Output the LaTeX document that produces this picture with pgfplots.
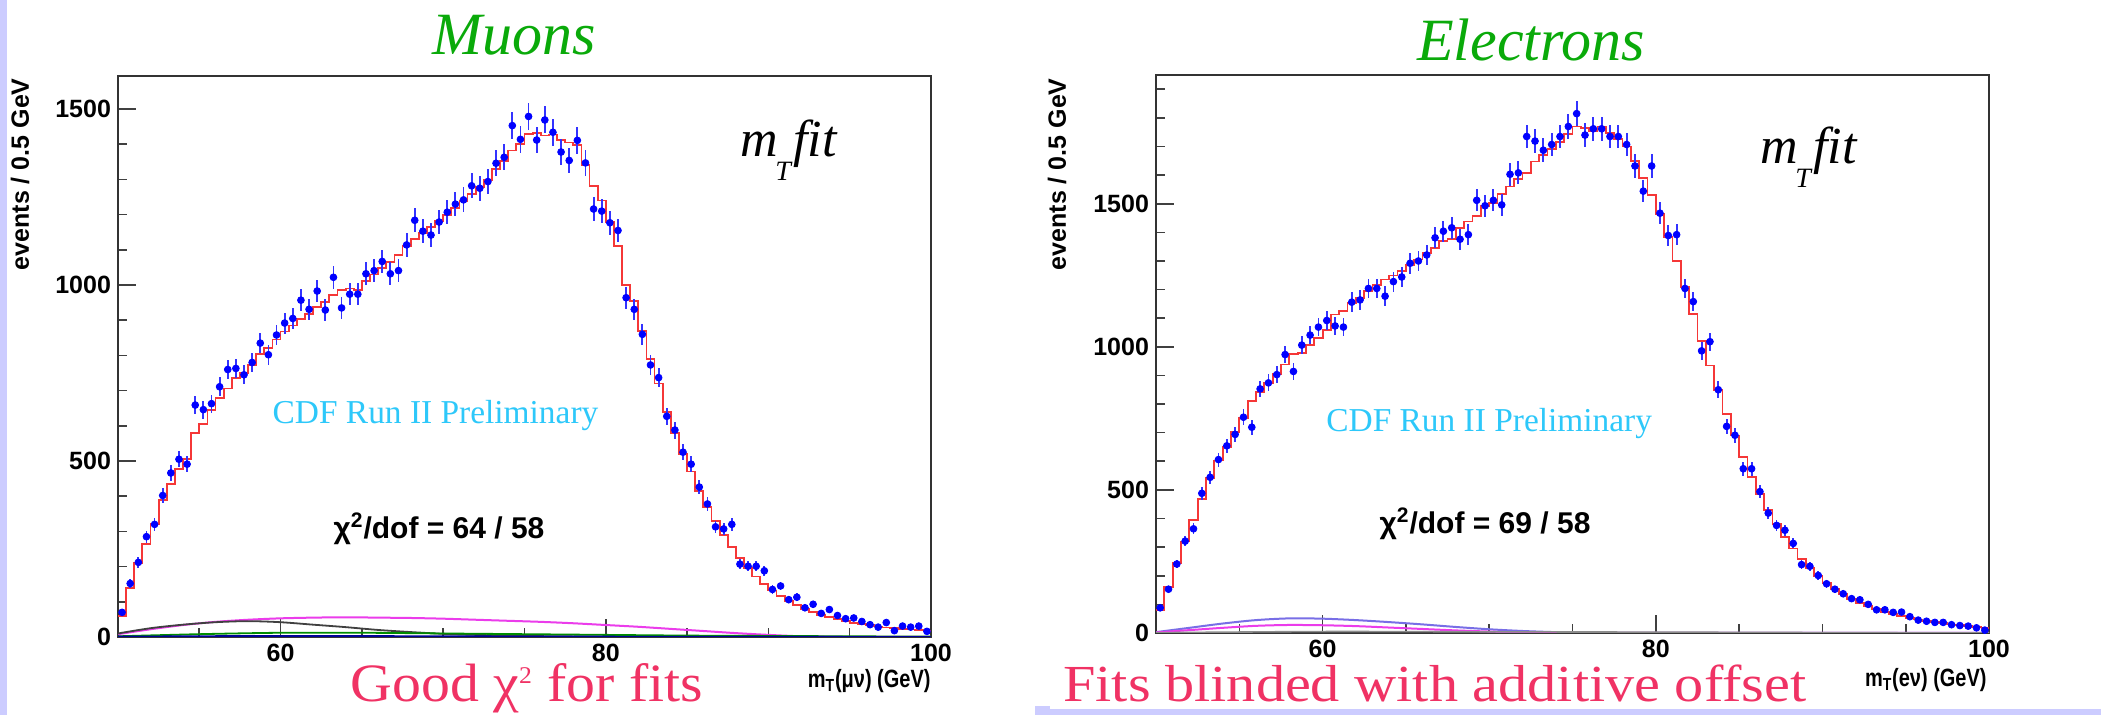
\documentclass[border=0pt]{standalone}
\usepackage{pgfplots}
\pgfplotsset{compat=1.18}
\usepackage{pgfplotstable}
\usepackage{fontspec}
\setmainfont{Liberation Serif}
\newfontfamily\rs{Liberation Sans}
\definecolor{lav}{RGB}{204,204,255}
\definecolor{fitred}{RGB}{245,55,55}
\definecolor{ttlgreen}{RGB}{10,170,10}
\definecolor{cdfcyan}{RGB}{45,200,250}
\definecolor{pinkred}{RGB}{240,50,100}
\definecolor{bgmag}{RGB}{235,60,235}
\definecolor{bgblue}{RGB}{120,110,230}

\pgfplotstableread{
c d f
50.25 70 60
50.75 152 140
51.25 212 210
51.75 285 265
52.25 320 320
52.75 402 390
53.25 466 435
53.75 505 478
54.25 491 505
54.75 659 580
55.25 646 606
55.75 663 645
56.25 711 680
56.75 760 706
57.25 763 737
57.75 745 750
58.25 780 773
58.75 835 805
59.25 802 822
59.75 858 845
60.25 892 868
60.75 905 885
61.25 957 903
61.75 931 918
62.25 983 938
62.75 929 952
63.25 1022 972
63.75 935 985
64.25 974 990
64.75 974 985
65.25 1032 1012
65.75 1041 1030
66.25 1067 1048
66.75 1032 1065
67.25 1041 1085
67.75 1114 1110
68.25 1184 1130
68.75 1153 1148
69.25 1142 1165
69.75 1179 1182
70.25 1207 1200
70.75 1230 1218
71.25 1242 1238
71.75 1282 1258
72.25 1275 1278
72.75 1294 1298
73.25 1346 1330
73.75 1363 1352
74.25 1453 1382
74.75 1414 1400
75.25 1479 1430
75.75 1412 1432
76.25 1469 1425
76.75 1434 1428
77.25 1378 1412
77.75 1354 1405
78.25 1411 1398
78.75 1347 1340
79.25 1216 1282
79.75 1210 1240
80.25 1177 1180
80.75 1155 1110
81.25 964 1000
81.75 931 955
82.25 860 870
82.75 773 790
83.25 737 720
83.75 627 640
84.25 588 580
84.75 525 520
85.25 491 470
85.75 426 415
86.25 378 370
86.75 313 330
87.25 307 290
87.75 320 255
88.25 207 225
88.75 201 195
89.25 201 172
89.75 188 150
90.25 135 132
90.75 145 116
91.25 106 102
91.75 113 90
92.25 83 80
92.75 93 71
93.25 67 63
93.75 78 56
94.25 61 50
94.75 52 45
95.25 54 40
95.75 44 36
96.25 35 33
96.75 28 30
97.25 41 27
97.75 18 25
98.25 31 23
98.75 28 21
99.25 31 19
99.75 16 17
}\mudata

\pgfplotstableread{
c d f
50.25 88 80
50.75 153 160
51.25 241 245
51.75 321 320
52.25 364 395
52.75 488 467
53.25 544 543
53.75 606 603
54.25 654 650
54.75 694 703
55.25 754 752
55.75 719 810
56.25 853 843
56.75 874 874
57.25 903 906
57.75 973 938
58.25 914 976
58.75 1006 979
59.25 1041 1006
59.75 1069 1031
60.25 1092 1060
60.75 1073 1113
61.25 1069 1124
61.75 1156 1153
62.25 1164 1171
62.75 1204 1194
63.25 1204 1217
63.75 1177 1235
64.25 1228 1249
64.75 1244 1264
65.25 1292 1287
65.75 1300 1305
66.25 1321 1328
66.75 1381 1345
67.25 1404 1371
67.75 1416 1378
68.25 1376 1415
68.75 1392 1438
69.25 1512 1456
69.75 1493 1491
70.25 1512 1502
70.75 1496 1534
71.25 1603 1560
71.75 1608 1587
72.25 1735 1607
72.75 1719 1648
73.25 1687 1669
73.75 1707 1690
74.25 1735 1715
74.75 1770 1745
75.25 1815 1770
75.75 1740 1765
76.25 1762 1755
76.75 1762 1770
77.25 1735 1748
77.75 1735 1725
78.25 1707 1700
78.75 1632 1650
79.25 1544 1590
79.75 1632 1530
80.25 1467 1465
80.75 1389 1385
81.25 1392 1300
81.75 1204 1210
82.25 1158 1115
82.75 986 1020
83.25 1018 935
83.75 850 850
84.25 722 765
84.75 691 690
85.25 574 615
85.75 574 545
86.25 494 485
86.75 419 430
87.25 376 380
87.75 359 335
88.25 313 295
88.75 239 258
89.25 233 226
89.75 201 198
90.25 172 174
90.75 153 153
91.25 137 135
91.75 120 119
92.25 116 105
92.75 100 93
93.25 81 83
93.75 81 74
94.25 72 66
94.75 73 59
95.25 57 53
95.75 45 47
96.25 41 42
96.75 37 38
97.25 37 34
97.75 29 30
98.25 26 27
98.75 24 24
99.25 18 21
99.75 10 18
}\eldata

\pgfplotsset{
  rootax/.style={
    scale only axis, xmin=50, xmax=100, ymin=0,
    axis line style={line width=1pt, black!80},
    tick align=inside, xtick pos=bottom, ytick pos=left,
    xtick={60,80,100}, minor xtick={55,65,70,75,85,90,95},
    ytick={0,500,1000,1500},
    major tick length=9pt, minor tick length=4.5pt,
    tick style={line width=0.8pt, black!75},
    ticklabel style={font=\rs\bfseries\fontsize{12.5}{14}\selectfont},
    /pgf/number format/assume math mode=true,
    /pgf/number format/1000 sep={},
  },
  dataplot/.style={only marks, mark=*, mark size=1.7pt, blue,
    error bars/.cd, y dir=both, y explicit,
    error bar style={line width=0.9pt, blue!80}, error mark=none},
  fitplot/.style={const plot, color=fitred, line width=0.9pt},
}

\begin{document}
\begin{tikzpicture}
\useasboundingbox (0,0) rectangle (1050.5pt,357.5pt);
\fill[white] (0,0) rectangle (1050.5pt,357.5pt);
\fill[lav] (0,0) rectangle (3.5pt,357.5pt);
\fill[lav] (517.5pt,0) rectangle (1050.5pt,3pt);
\fill[lav] (517.5pt,0) rectangle (525pt,4.5pt);

% ---------------- Muons ----------------
\begin{axis}[rootax, at={(59pt,39pt)}, anchor=south west,
  width=406.5pt, height=280.5pt, ymax=1594,
  minor ytick={100,200,...,1500}]
\addplot[bgmag, line width=1pt, smooth] coordinates {(50,8)(52,22)(54,34)(56,43)(58,49)(60,53)(62,55)(64,56)(66,55)(68,54)(70,52)(72,49)(74,46)(76,43)(78,39)(80,34)(82,29)(84,23)(86,17)(88,11)(90,6)(92,2)(94,0.5)(100,0)};
\addplot[black!75, line width=0.9pt, smooth] coordinates {(50,10)(52,25)(54,35)(56,42)(58,45)(60,42)(62,35)(64,28)(66,20)(68,14)(70,9)(72,6)(75,3)(80,1)(85,0.3)(100,0)};
\addplot[green!55!black, line width=0.9pt, smooth] coordinates {(50,2)(55,8)(60,12)(65,12)(70,10)(75,8)(80,6)(85,4)(90,3)(100,1)};
\addplot[blue!60!black, line width=0.9pt, smooth] coordinates {(50,1)(60,3)(70,2)(80,1)(100,0)};
\addplot[fitplot] table[x expr=\thisrow{c}-0.25, y=f] {\mudata};
\addplot[fitplot] coordinates {(99.5,17)(100,17)};
\addplot[dataplot] table[x=c, y=d, y error expr=sqrt(\thisrow{d})] {\mudata};
\end{axis}

% ---------------- Electrons ----------------
\begin{axis}[rootax, at={(578pt,41pt)}, anchor=south west,
  width=416.5pt, height=279pt, ymax=1950,
  minor ytick={100,200,...,1900}]
\addplot[bgblue, line width=1pt, smooth] coordinates {(50,3)(52,18)(54,33)(56,45)(58,51)(60,50)(62,45)(64,38)(66,30)(68,21)(70,13)(72,7)(74,3)(76,1)(80,0.3)(100,0)};
\addplot[bgmag, line width=1pt, smooth] coordinates {(50,2)(52,10)(54,18)(56,25)(58,28)(60,27)(62,24)(64,19)(66,14)(68,9)(70,5)(72,2)(75,0.5)(100,0)};
\addplot[black!45, line width=0.8pt, smooth] coordinates {(50,1)(60,5)(70,4)(80,3)(92,1)(100,0)};
\addplot[fitplot] table[x expr=\thisrow{c}-0.25, y=f] {\eldata};
\addplot[fitplot] coordinates {(99.5,18)(100,18)};
\addplot[dataplot] table[x=c, y=d, y error expr=sqrt(\thisrow{d})] {\eldata};
\end{axis}

% ---------------- Texts ----------------
\node[anchor=base, text=ttlgreen, font=\itshape\fontsize{30}{30}\selectfont] at (257pt,330pt) {Muons};
\node[anchor=base, text=ttlgreen, font=\itshape\fontsize{30}{30}\selectfont] at (765.5pt,327pt) {Electrons};

\node[anchor=base west, inner sep=0pt, font=\itshape\fontsize{26}{26}\selectfont] at (370pt,279pt) {m\kern-0.05em\raisebox{-1.0ex}{\fontsize{14}{14}\selectfont T}\kern0.05em fit};
\node[anchor=base west, inner sep=0pt, font=\itshape\fontsize{26}{26}\selectfont] at (880pt,275.5pt) {m\kern-0.05em\raisebox{-1.0ex}{\fontsize{14}{14}\selectfont T}\kern0.05em fit};

\node[text=cdfcyan, font=\fontsize{16.7}{17}\selectfont] at (217.75pt,149.5pt) {CDF Run II Preliminary};
\node[text=cdfcyan, font=\fontsize{16.7}{17}\selectfont] at (744.6pt,145.5pt) {CDF Run II Preliminary};

\node[font=\rs\bfseries\fontsize{15}{15}\selectfont] at (219.5pt,93pt) {χ\textsuperscript{2}/dof = 64 / 58};
\node[font=\rs\bfseries\fontsize{15}{15}\selectfont] at (742.5pt,95.5pt) {χ\textsuperscript{2}/dof = 69 / 58};

\node[anchor=east, inner sep=0pt, font=\rs\bfseries\fontsize{12.5}{13}\selectfont] at (465.5pt,17pt) {\scalebox{0.8}[1]{m\textsubscript{T}(μν) (GeV)}};
\node[anchor=east, inner sep=0pt, font=\rs\bfseries\fontsize{12.5}{13}\selectfont] at (993.5pt,17.5pt) {\scalebox{0.8}[1]{m\textsubscript{T}(eν) (GeV)}};

\node[rotate=90, anchor=east, inner sep=0pt, font=\rs\bfseries\fontsize{12.5}{13}\selectfont] at (10pt,318.5pt) {events / 0.5 GeV};
\node[rotate=90, anchor=east, inner sep=0pt, font=\rs\bfseries\fontsize{12.5}{13}\selectfont] at (528.5pt,318.5pt) {events / 0.5 GeV};

\node[anchor=base, inner sep=0pt, text=pinkred, font=\fontsize{27}{27}\selectfont] at (263.5pt,6.5pt) {\scalebox{1.07}[1]{Good χ\textsuperscript{\fontsize{12}{12}\selectfont 2} for fits}};
\node[anchor=base west, text=pinkred, font=\fontsize{26}{26}\selectfont, inner sep=0pt] at (531.5pt,6.5pt) {\scalebox{1.12}[1]{Fits blinded with additive offset}};
\end{tikzpicture}
\end{document}
